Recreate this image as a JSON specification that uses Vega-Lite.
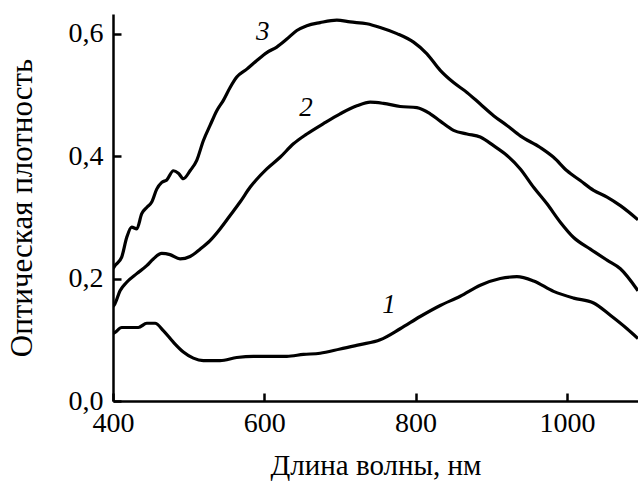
{
  "$schema": "https://vega.github.io/schema/vega-lite/v6.json",
  "width": 525,
  "height": 387,
  "autosize": "none",
  "padding": {"left": 113, "top": 14, "right": 0, "bottom": 86},
  "config": {
    "view": {"stroke": null},
    "font": "Liberation Serif",
    "axis": {
      "domainColor": "black",
      "domainWidth": 2.5,
      "tickColor": "black",
      "tickWidth": 2.5,
      "tickSize": -8,
      "grid": false,
      "labelFont": "Liberation Serif",
      "labelFontSize": 28,
      "labelColor": "black",
      "titleFont": "Liberation Serif",
      "titleFontSize": 29,
      "titleFontWeight": "normal",
      "titleColor": "black"
    }
  },
  "datasets": {
    "curves": [
      {"curve": "3", "wl": 400, "od": 0.216},
      {"curve": "3", "wl": 402.6, "od": 0.221},
      {"curve": "3", "wl": 411.5, "od": 0.235},
      {"curve": "3", "wl": 418.1, "od": 0.267},
      {"curve": "3", "wl": 424.7, "od": 0.284},
      {"curve": "3", "wl": 431.4, "od": 0.281},
      {"curve": "3", "wl": 438.0, "od": 0.306},
      {"curve": "3", "wl": 444.6, "od": 0.316},
      {"curve": "3", "wl": 451.2, "od": 0.325},
      {"curve": "3", "wl": 457.8, "od": 0.346},
      {"curve": "3", "wl": 464.5, "od": 0.357},
      {"curve": "3", "wl": 471.1, "od": 0.361},
      {"curve": "3", "wl": 479.8, "od": 0.376},
      {"curve": "3", "wl": 486.4, "od": 0.372},
      {"curve": "3", "wl": 493.0, "od": 0.363},
      {"curve": "3", "wl": 501.9, "od": 0.376},
      {"curve": "3", "wl": 510.7, "od": 0.393},
      {"curve": "3", "wl": 519.4, "od": 0.425},
      {"curve": "3", "wl": 528.3, "od": 0.450},
      {"curve": "3", "wl": 537.2, "od": 0.474},
      {"curve": "3", "wl": 545.9, "od": 0.491},
      {"curve": "3", "wl": 554.8, "od": 0.512},
      {"curve": "3", "wl": 563.6, "od": 0.529},
      {"curve": "3", "wl": 576.9, "od": 0.542},
      {"curve": "3", "wl": 590.1, "od": 0.556},
      {"curve": "3", "wl": 603.3, "od": 0.569},
      {"curve": "3", "wl": 616.5, "od": 0.578},
      {"curve": "3", "wl": 629.8, "od": 0.591},
      {"curve": "3", "wl": 643.0, "od": 0.605},
      {"curve": "3", "wl": 656.2, "od": 0.613},
      {"curve": "3", "wl": 673.8, "od": 0.618},
      {"curve": "3", "wl": 695.9, "od": 0.622},
      {"curve": "3", "wl": 713.5, "od": 0.619},
      {"curve": "3", "wl": 735.6, "od": 0.616},
      {"curve": "3", "wl": 753.2, "od": 0.610},
      {"curve": "3", "wl": 775.3, "od": 0.600},
      {"curve": "3", "wl": 797.3, "od": 0.586},
      {"curve": "3", "wl": 815.0, "od": 0.567},
      {"curve": "3", "wl": 832.6, "od": 0.540},
      {"curve": "3", "wl": 850.2, "od": 0.520},
      {"curve": "3", "wl": 867.9, "od": 0.504},
      {"curve": "3", "wl": 885.5, "od": 0.485},
      {"curve": "3", "wl": 903.1, "od": 0.466},
      {"curve": "3", "wl": 920.8, "od": 0.450},
      {"curve": "3", "wl": 938.4, "od": 0.433},
      {"curve": "3", "wl": 964.8, "od": 0.414},
      {"curve": "3", "wl": 982.4, "od": 0.398},
      {"curve": "3", "wl": 1000.2, "od": 0.376},
      {"curve": "3", "wl": 1017.7, "od": 0.360},
      {"curve": "3", "wl": 1035.3, "od": 0.344},
      {"curve": "3", "wl": 1053.1, "od": 0.333},
      {"curve": "3", "wl": 1070.7, "od": 0.319},
      {"curve": "3", "wl": 1094, "od": 0.296},
      {"curve": "2", "wl": 400, "od": 0.154},
      {"curve": "2", "wl": 402.6, "od": 0.159},
      {"curve": "2", "wl": 409.3, "od": 0.180},
      {"curve": "2", "wl": 418.1, "od": 0.194},
      {"curve": "2", "wl": 431.4, "od": 0.208},
      {"curve": "2", "wl": 444.6, "od": 0.221},
      {"curve": "2", "wl": 453.3, "od": 0.232},
      {"curve": "2", "wl": 464.4, "od": 0.241},
      {"curve": "2", "wl": 475.4, "od": 0.239},
      {"curve": "2", "wl": 488.6, "od": 0.232},
      {"curve": "2", "wl": 501.9, "od": 0.236},
      {"curve": "2", "wl": 515.1, "od": 0.248},
      {"curve": "2", "wl": 528.3, "od": 0.262},
      {"curve": "2", "wl": 541.5, "od": 0.281},
      {"curve": "2", "wl": 554.8, "od": 0.303},
      {"curve": "2", "wl": 568.0, "od": 0.325},
      {"curve": "2", "wl": 581.2, "od": 0.349},
      {"curve": "2", "wl": 603.3, "od": 0.379},
      {"curve": "2", "wl": 620.9, "od": 0.398},
      {"curve": "2", "wl": 638.5, "od": 0.420},
      {"curve": "2", "wl": 656.2, "od": 0.436},
      {"curve": "2", "wl": 678.2, "od": 0.453},
      {"curve": "2", "wl": 700.3, "od": 0.469},
      {"curve": "2", "wl": 722.4, "od": 0.482},
      {"curve": "2", "wl": 740.0, "od": 0.488},
      {"curve": "2", "wl": 757.5, "od": 0.486},
      {"curve": "2", "wl": 779.6, "od": 0.481},
      {"curve": "2", "wl": 801.7, "od": 0.479},
      {"curve": "2", "wl": 819.3, "od": 0.469},
      {"curve": "2", "wl": 832.6, "od": 0.457},
      {"curve": "2", "wl": 850.2, "od": 0.442},
      {"curve": "2", "wl": 867.9, "od": 0.436},
      {"curve": "2", "wl": 885.5, "od": 0.431},
      {"curve": "2", "wl": 903.1, "od": 0.417},
      {"curve": "2", "wl": 920.8, "od": 0.401},
      {"curve": "2", "wl": 938.4, "od": 0.379},
      {"curve": "2", "wl": 956.0, "od": 0.349},
      {"curve": "2", "wl": 973.7, "od": 0.322},
      {"curve": "2", "wl": 991.3, "od": 0.292},
      {"curve": "2", "wl": 1008.9, "od": 0.267},
      {"curve": "2", "wl": 1031.0, "od": 0.248},
      {"curve": "2", "wl": 1053.1, "od": 0.230},
      {"curve": "2", "wl": 1070.7, "od": 0.216},
      {"curve": "2", "wl": 1094, "od": 0.180},
      {"curve": "1", "wl": 400, "od": 0.110},
      {"curve": "1", "wl": 402.6, "od": 0.112},
      {"curve": "1", "wl": 411.5, "od": 0.120},
      {"curve": "1", "wl": 422.5, "od": 0.120},
      {"curve": "1", "wl": 433.5, "od": 0.120},
      {"curve": "1", "wl": 444.6, "od": 0.127},
      {"curve": "1", "wl": 455.6, "od": 0.127},
      {"curve": "1", "wl": 466.5, "od": 0.115},
      {"curve": "1", "wl": 479.8, "od": 0.096},
      {"curve": "1", "wl": 493.0, "od": 0.080},
      {"curve": "1", "wl": 506.2, "od": 0.070},
      {"curve": "1", "wl": 519.4, "od": 0.066},
      {"curve": "1", "wl": 541.5, "od": 0.066},
      {"curve": "1", "wl": 563.6, "od": 0.071},
      {"curve": "1", "wl": 585.6, "od": 0.073},
      {"curve": "1", "wl": 607.7, "od": 0.073},
      {"curve": "1", "wl": 629.8, "od": 0.073},
      {"curve": "1", "wl": 651.7, "od": 0.076},
      {"curve": "1", "wl": 673.8, "od": 0.078},
      {"curve": "1", "wl": 700.3, "od": 0.085},
      {"curve": "1", "wl": 726.7, "od": 0.092},
      {"curve": "1", "wl": 753.2, "od": 0.100},
      {"curve": "1", "wl": 779.6, "od": 0.118},
      {"curve": "1", "wl": 806.1, "od": 0.138},
      {"curve": "1", "wl": 832.6, "od": 0.156},
      {"curve": "1", "wl": 859.0, "od": 0.171},
      {"curve": "1", "wl": 885.5, "od": 0.189},
      {"curve": "1", "wl": 911.9, "od": 0.200},
      {"curve": "1", "wl": 934.0, "od": 0.203},
      {"curve": "1", "wl": 956.0, "od": 0.196},
      {"curve": "1", "wl": 982.4, "od": 0.179},
      {"curve": "1", "wl": 1008.9, "od": 0.168},
      {"curve": "1", "wl": 1035.3, "od": 0.160},
      {"curve": "1", "wl": 1057.4, "od": 0.140},
      {"curve": "1", "wl": 1079.5, "od": 0.118},
      {"curve": "1", "wl": 1094, "od": 0.102}
    ],
    "labels": [
      {"label": "3", "wl": 598, "od": 0.602},
      {"label": "2", "wl": 655, "od": 0.479},
      {"label": "1", "wl": 765, "od": 0.157}
    ]
  },
  "layer": [
    {
      "data": {"name": "curves"},
      "mark": {"type": "line", "color": "black", "strokeWidth": 3.2, "interpolate": "monotone", "clip": true},
      "encoding": {
        "x": {
          "field": "wl", "type": "quantitative",
          "scale": {"domain": [400, 1094], "nice": false, "zero": false},
          "axis": {"title": "Длина волны, нм", "values": [400, 600, 800, 1000], "format": "d", "labelPadding": 16, "titlePadding": 14, "labelFlush": false}
        },
        "y": {
          "field": "od", "type": "quantitative",
          "scale": {"domain": [0, 0.632], "nice": false},
          "axis": {"title": "Оптическая плотность", "titleFontSize": 31, "values": [0, 0.2, 0.4, 0.6], "labelExpr": "replace(format(datum.value, '.1f'), '.', ',')", "labelPadding": 18, "titlePadding": 30, "labelFlush": false}
        },
        "detail": {"field": "curve", "type": "nominal"}
      }
    },
    {
      "data": {"name": "labels"},
      "mark": {"type": "text", "font": "Liberation Serif", "fontStyle": "italic", "fontSize": 27, "color": "black", "baseline": "middle", "align": "center"},
      "encoding": {
        "x": {"field": "wl", "type": "quantitative"},
        "y": {"field": "od", "type": "quantitative"},
        "text": {"field": "label", "type": "nominal"}
      }
    }
  ]
}
